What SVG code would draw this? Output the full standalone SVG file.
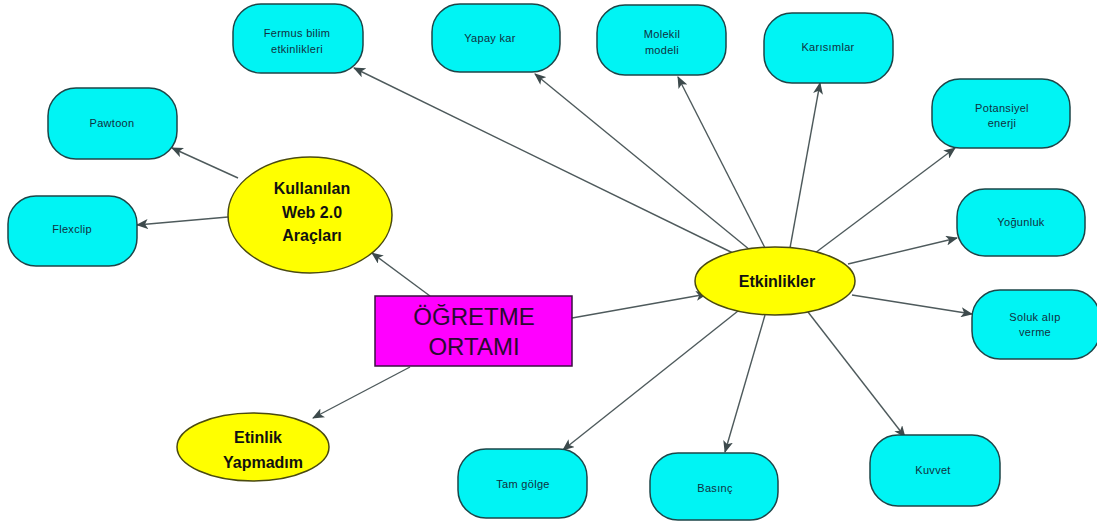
<svg xmlns="http://www.w3.org/2000/svg" width="1097" height="522" viewBox="0 0 1097 522">
  <style>
    .leaf { fill: #00f4f4; stroke: #1d4548; stroke-width: 1.5; }
    .hub { fill: #ffff00; stroke: #4a4a10; stroke-width: 1.5; }
    .root { fill: #ff00ff; stroke: #3a1040; stroke-width: 1.5; }
    .edge { stroke: #4e5a5c; stroke-width: 1.4; fill: none; marker-end: url(#arrow); }
    .lt { font-family: "Liberation Sans", "DejaVu Sans", sans-serif; font-size: 11px; letter-spacing: 0.3px; fill: #103040; text-anchor: middle; }
    .ht { font-family: "Liberation Sans", "DejaVu Sans", sans-serif; font-size: 16px; font-weight: bold; fill: #111; text-anchor: middle; }
    .rt { font-family: "Liberation Sans", "DejaVu Sans", sans-serif; font-size: 24px; fill: #2a0a30; text-anchor: middle; }
  </style>
  <defs>
    <marker id="arrow" viewBox="0 0 12 10" refX="11" refY="5" markerWidth="12" markerHeight="10" markerUnits="userSpaceOnUse" orient="auto">
      <path d="M0,0 L12,5 L0,10 L3,5 Z" fill="#3d4a4c"/>
    </marker>
  </defs>
  <rect width="1097" height="522" fill="#ffffff"/>

  <!-- connectors -->
  <g id="connectors">
    <line class="edge" x1="430" y1="296" x2="372" y2="253"/>
    <line class="edge" x1="572" y1="318" x2="707" y2="294"/>
    <line class="edge" x1="410" y1="367" x2="313" y2="418"/>
    <line class="edge" x1="238" y1="178" x2="172" y2="148"/>
    <line class="edge" x1="228" y1="217" x2="137" y2="225"/>
    <line class="edge" x1="735" y1="254" x2="354" y2="68"/>
    <line class="edge" x1="750" y1="250" x2="535" y2="74"/>
    <line class="edge" x1="765" y1="248" x2="678" y2="77"/>
    <line class="edge" x1="790" y1="248" x2="820" y2="83"/>
    <line class="edge" x1="815" y1="253" x2="955" y2="148"/>
    <line class="edge" x1="848" y1="264" x2="957" y2="238"/>
    <line class="edge" x1="852" y1="295" x2="972" y2="314"/>
    <line class="edge" x1="808" y1="312" x2="905" y2="437"/>
    <line class="edge" x1="765" y1="315" x2="725" y2="452"/>
    <line class="edge" x1="738" y1="311" x2="563" y2="450"/>
  </g>

  <!-- central node -->
  <g id="ogretme-ortami">
    <rect class="root" x="375" y="296" width="197" height="70"/>
    <text class="rt" x="474" y="325">ÖĞRETME</text>
    <text class="rt" x="474" y="355">ORTAMI</text>
  </g>

  <!-- hub nodes -->
  <g id="kullanilan-araclar">
    <ellipse class="hub" cx="310" cy="215" rx="82" ry="58"/>
    <text class="ht" x="312" y="194">Kullanılan</text>
    <text class="ht" x="312" y="218">Web 2.0</text>
    <text class="ht" x="312" y="241">Araçları</text>
  </g>
  <g id="etkinlikler">
    <ellipse class="hub" cx="775" cy="281" rx="80" ry="34"/>
    <text class="ht" x="777" y="287">Etkinlikler</text>
  </g>
  <g id="etinlik-yapmadim">
    <ellipse class="hub" cx="253" cy="447" rx="76" ry="34"/>
    <text class="ht" x="258" y="443">Etinlik</text>
    <text class="ht" x="263" y="468">Yapmadım</text>
  </g>

  <!-- leaf nodes -->
  <g id="pawtoon">
    <rect class="leaf" x="48" y="88" width="129" height="71" rx="28"/>
    <text class="lt" x="112" y="127">Pawtoon</text>
  </g>
  <g id="flexclip">
    <rect class="leaf" x="8" y="196" width="129" height="70" rx="28"/>
    <text class="lt" x="72" y="233">Flexclip</text>
  </g>
  <g id="fermus">
    <rect class="leaf" x="233" y="4" width="130" height="69" rx="28"/>
    <text class="lt" x="297" y="37">Fermus bilim</text>
    <text class="lt" x="297" y="53">etkinlikleri</text>
  </g>
  <g id="yapay-kar">
    <rect class="leaf" x="432" y="4" width="128" height="68" rx="28"/>
    <text class="lt" x="490" y="42">Yapay kar</text>
  </g>
  <g id="molekil-modeli">
    <rect class="leaf" x="597" y="5" width="129" height="70" rx="28"/>
    <text class="lt" x="662" y="38">Molekil</text>
    <text class="lt" x="662" y="54">modeli</text>
  </g>
  <g id="karisimlar">
    <rect class="leaf" x="764" y="13" width="129" height="70" rx="28"/>
    <text class="lt" x="828" y="51">Karısımlar</text>
  </g>
  <g id="potansiyel-enerji">
    <rect class="leaf" x="932" y="79" width="138" height="69" rx="28"/>
    <text class="lt" x="1002" y="112">Potansiyel</text>
    <text class="lt" x="1002" y="127">enerji</text>
  </g>
  <g id="yogunluk">
    <rect class="leaf" x="957" y="189" width="128" height="67" rx="28"/>
    <text class="lt" x="1021" y="226">Yoğunluk</text>
  </g>
  <g id="soluk-alip-verme">
    <rect class="leaf" x="972" y="290" width="128" height="69" rx="28"/>
    <text class="lt" x="1035" y="321">Soluk alıp</text>
    <text class="lt" x="1035" y="336">verme</text>
  </g>
  <g id="kuvvet">
    <rect class="leaf" x="870" y="435" width="130" height="71" rx="28"/>
    <text class="lt" x="933" y="474">Kuvvet</text>
  </g>
  <g id="basinc">
    <rect class="leaf" x="650" y="453" width="128" height="67" rx="28"/>
    <text class="lt" x="715" y="492">Basınç</text>
  </g>
  <g id="tam-golge">
    <rect class="leaf" x="458" y="449" width="129" height="69" rx="28"/>
    <text class="lt" x="523" y="488">Tam gölge</text>
  </g>
</svg>
